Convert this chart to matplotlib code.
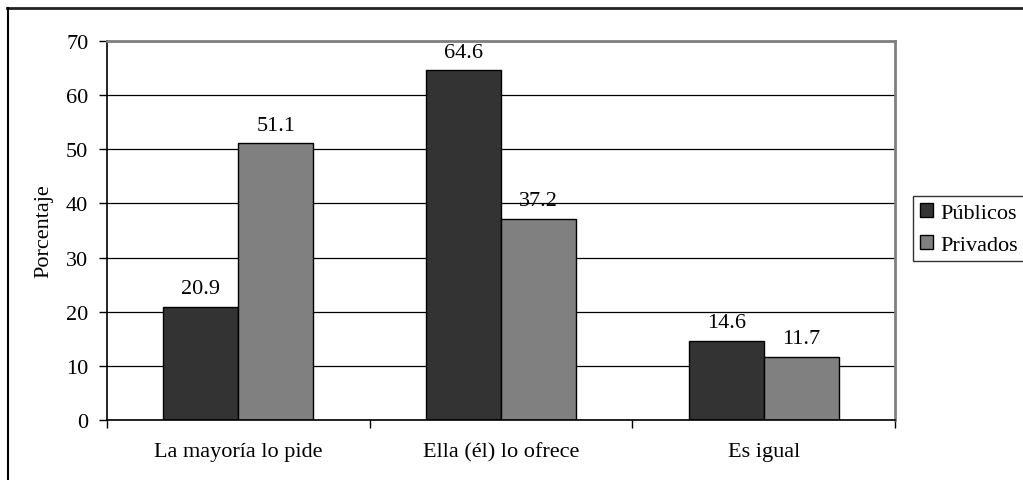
import matplotlib.pyplot as plt
import numpy as np
from matplotlib.lines import Line2D

plt.rcParams['font.family'] = ['Liberation Serif', 'DejaVu Serif']

categories = ['La mayoría lo pide', 'Ella (él) lo ofrece', 'Es igual']
publicos = [20.9, 64.6, 14.6]
privados = [51.1, 37.2, 11.7]
series_names = ['Públicos', 'Privados']

W, H = 1023, 481
fig = plt.figure(figsize=(W / 100, H / 100), dpi=100)
fig.patch.set_facecolor('white')

# plot area in pixel coordinates
left, right, top, bottom = 107, 895, 42, 421
ax = fig.add_axes([left / W, 1 - bottom / H, (right - left) / W, (bottom - top) / H])

ind = np.arange(len(categories))
width = 0.285
b1 = ax.bar(ind - width / 2, publicos, width, color='#333333', edgecolor='black', linewidth=1, label=series_names[0])
b2 = ax.bar(ind + width / 2, privados, width, color='#808080', edgecolor='black', linewidth=1, label=series_names[1])

for bars, vals in [(b1, publicos), (b2, privados)]:
    for b, v in zip(bars, vals):
        ax.text(b.get_x() + b.get_width() / 2, v + 1.6, f'{v:.1f}', ha='center', va='bottom', fontsize=16)

ax.set_xlim(-0.5, len(categories) - 0.5)
ax.set_ylim(0, 70)
ax.set_yticks(np.arange(0, 71, 10))
ax.yaxis.grid(True, color='black', linewidth=0.9)
ax.set_axisbelow(True)

ax.set_xticks(ind)
ax.set_xticklabels(categories, fontsize=16)
ax.tick_params(axis='x', length=0, pad=16)
ax.set_xticks(np.arange(-0.5, len(categories)), minor=True)
ax.tick_params(axis='x', which='minor', length=6, direction='out', width=1)
ax.tick_params(axis='y', length=6, direction='out', width=1, labelsize=16, pad=7.5)
ax.set_ylabel('Porcentaje', fontsize=16, labelpad=9)

for s in ['left', 'bottom']:
    ax.spines[s].set_color('black')
    ax.spines[s].set_linewidth(1.2)
for s in ['top', 'right']:
    ax.spines[s].set_color('#808080')
    ax.spines[s].set_linewidth(2)

leg = fig.legend(handles=[b1, b2], loc='upper left', bbox_to_anchor=(913 / W, 1 - 197 / H),
                 frameon=True, fancybox=False, edgecolor='black', fontsize=16,
                 handlelength=0.6, handleheight=0.6, handletextpad=0.35,
                 borderpad=0.3, labelspacing=0.55, borderaxespad=0)
leg.get_frame().set_linewidth(1)

# outer chart border (top and left edges)
fig.add_artist(Line2D([7 / W, 1], [1 - 8.5 / H, 1 - 8.5 / H], color='#222222', linewidth=2, transform=fig.transFigure))
fig.add_artist(Line2D([7.5 / W, 7.5 / W], [0, 1 - 8.5 / H], color='black', linewidth=1.5, transform=fig.transFigure))

fig.savefig('out.png', dpi=100)
